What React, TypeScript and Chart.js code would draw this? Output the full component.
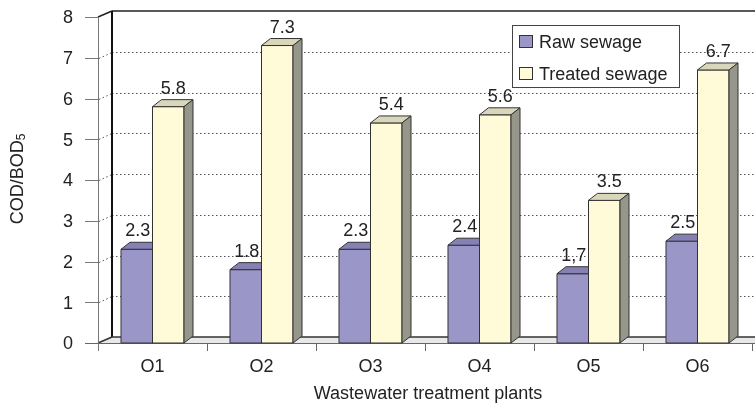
import React, { useEffect, useRef } from "react";
import { Chart, registerables } from "chart.js";

Chart.register(...registerables);

const categories = ["O1", "O2", "O3", "O4", "O5", "O6"];
const rawSewage = [2.3, 1.8, 2.3, 2.4, 1.7, 2.5];
const treatedSewage = [5.8, 7.3, 5.4, 5.6, 3.5, 6.7];
const rawLabels = ["2.3", "1.8", "2.3", "2.4", "1,7", "2.5"];
const treatedLabels = ["5.8", "7.3", "5.4", "5.6", "3.5", "6.7"];
const yTicks = [0, 1, 2, 3, 4, 5, 6, 7, 8];
const seriesNames = ["Raw sewage", "Treated sewage"];
const xTitle = "Wastewater treatment plants";
const yTitleMain = "COD/BOD";
const yTitleSub = "5";

const FONT = "'Liberation Sans', Arial, Helvetica, sans-serif";

const COLORS = [
  { front: "#9b96c8", top: "#8581b5", side: "#6e6a99" },
  { front: "#fffad8", top: "#dad6ba", side: "#96968a" },
];

const WALL_DX = 14;
const WALL_DY = -6;
const BAR_DX = 9;
const BAR_DY = -7;

const threeD = {
  id: "threeD",
  beforeDatasetsDraw(chart: any) {
    const ctx = chart.ctx as CanvasRenderingContext2D;
    const { left, right, top, bottom } = chart.chartArea;
    const W = chart.width;
    const ys = chart.scales.y;
    ctx.save();
    ctx.fillStyle = "#e8e8e8";
    ctx.beginPath();
    ctx.moveTo(left, bottom);
    ctx.lineTo(W, bottom);
    ctx.lineTo(W, bottom + WALL_DY);
    ctx.lineTo(left + WALL_DX, bottom + WALL_DY);
    ctx.closePath();
    ctx.fill();

    ctx.strokeStyle = "#555";
    ctx.lineWidth = 1;
    ctx.setLineDash([1.5, 2.5]);
    for (const v of yTicks) {
      if (v === yTicks[0] || v === yTicks[yTicks.length - 1]) continue;
      const y = Math.round(ys.getPixelForValue(v)) + 0.5;
      ctx.beginPath();
      ctx.moveTo(left + WALL_DX, y + WALL_DY);
      ctx.lineTo(W, y + WALL_DY);
      ctx.stroke();
      ctx.beginPath();
      ctx.moveTo(left + 1, y);
      ctx.lineTo(left + WALL_DX, y + WALL_DY);
      ctx.stroke();
    }
    ctx.setLineDash([]);

    ctx.strokeStyle = "#222";
    ctx.lineWidth = 1.5;
    ctx.beginPath();
    ctx.moveTo(left + WALL_DX, top + WALL_DY);
    ctx.lineTo(W, top + WALL_DY);
    ctx.stroke();
    ctx.beginPath();
    ctx.moveTo(left, top);
    ctx.lineTo(left + WALL_DX, top + WALL_DY);
    ctx.stroke();
    ctx.lineWidth = 2;
    ctx.strokeStyle = "#111";
    ctx.beginPath();
    ctx.moveTo(left + WALL_DX, top + WALL_DY);
    ctx.lineTo(left + WALL_DX, bottom + WALL_DY);
    ctx.stroke();
    ctx.lineWidth = 1.5;
    ctx.strokeStyle = "#333";
    ctx.beginPath();
    ctx.moveTo(left + WALL_DX, bottom + WALL_DY);
    ctx.lineTo(W, bottom + WALL_DY);
    ctx.stroke();
    ctx.beginPath();
    ctx.moveTo(left, bottom);
    ctx.lineTo(left + WALL_DX, bottom + WALL_DY);
    ctx.stroke();

    ctx.strokeStyle = "#777";
    ctx.lineWidth = 1;
    ctx.beginPath();
    ctx.moveTo(left + 0.5, top);
    ctx.lineTo(left + 0.5, bottom + 8);
    ctx.stroke();
    for (const v of yTicks) {
      const y = Math.round(ys.getPixelForValue(v)) + 0.5;
      ctx.beginPath();
      ctx.moveTo(left - 13, y);
      ctx.lineTo(left, y);
      ctx.stroke();
    }
    ctx.strokeStyle = "#666";
    ctx.beginPath();
    ctx.moveTo(left - 13, bottom + 0.5);
    ctx.lineTo(W, bottom + 0.5);
    ctx.stroke();
    const n = categories.length;
    for (let i = 1; i <= n; i++) {
      const x = Math.round(left + ((right - left) * i) / n) + 0.5;
      ctx.beginPath();
      ctx.moveTo(x, bottom);
      ctx.lineTo(x, bottom + 8);
      ctx.stroke();
    }
    ctx.restore();
  },
  afterDatasetsDraw(chart: any) {
    const ctx = chart.ctx as CanvasRenderingContext2D;
    const metas = [chart.getDatasetMeta(0), chart.getDatasetMeta(1)];
    const labels = [rawLabels, treatedLabels];
    ctx.save();
    ctx.lineWidth = 1;
    ctx.strokeStyle = "#333";
    ctx.lineJoin = "round";
    for (let i = 0; i < categories.length; i++) {
      for (let d = 0; d < 2; d++) {
        const el = metas[d].data[i];
        const { x, y, base, width } = el.getProps(["x", "y", "base", "width"], true);
        const l = x - width / 2;
        const r = x + width / 2;
        const c = COLORS[d];
        ctx.fillStyle = c.front;
        ctx.fillRect(l, y, r - l, base - y);
        ctx.strokeRect(l, y, r - l, base - y);
        ctx.fillStyle = c.top;
        ctx.beginPath();
        ctx.moveTo(l, y);
        ctx.lineTo(r, y);
        ctx.lineTo(r + BAR_DX, y + BAR_DY);
        ctx.lineTo(l + BAR_DX, y + BAR_DY);
        ctx.closePath();
        ctx.fill();
        ctx.stroke();
        ctx.fillStyle = c.side;
        ctx.beginPath();
        ctx.moveTo(r, y);
        ctx.lineTo(r + BAR_DX, y + BAR_DY);
        ctx.lineTo(r + BAR_DX, base + BAR_DY);
        ctx.lineTo(r, base);
        ctx.closePath();
        ctx.fill();
        ctx.stroke();
      }
    }
    ctx.fillStyle = "#222";
    ctx.font = `18px ${FONT}`;
    ctx.textAlign = "center";
    ctx.textBaseline = "alphabetic";
    for (let i = 0; i < categories.length; i++) {
      for (let d = 0; d < 2; d++) {
        const el = metas[d].data[i];
        const { x, y } = el.getProps(["x", "y"], true);
        const off = d === 0 ? 1 : 5;
        ctx.fillText(labels[d][i], x + off, y - 13);
      }
    }
    ctx.restore();
  },
  afterDraw(chart: any) {
    const ctx = chart.ctx as CanvasRenderingContext2D;
    const { left, right, bottom } = chart.chartArea;
    const ys = chart.scales.y;
    const xs = chart.scales.x;
    ctx.save();
    ctx.fillStyle = "#222";
    ctx.font = `18px ${FONT}`;
    ctx.textAlign = "right";
    ctx.textBaseline = "middle";
    for (const v of yTicks) {
      ctx.fillText(String(v), left - 25, ys.getPixelForValue(v) + 1.5);
    }
    ctx.textAlign = "center";
    ctx.textBaseline = "alphabetic";
    categories.forEach((c, i) => {
      ctx.fillText(c, xs.getPixelForValue(i), bottom + 29);
    });
    ctx.fillText(xTitle, (left + right) / 2 + 3, bottom + 56);
    ctx.save();
    ctx.translate(23, 179);
    ctx.rotate(-Math.PI / 2);
    ctx.textAlign = "left";
    ctx.font = `18px ${FONT}`;
    const mw = ctx.measureText(yTitleMain).width;
    ctx.font = `12px ${FONT}`;
    const sw = ctx.measureText(yTitleSub).width;
    const start = -(mw + sw) / 2;
    ctx.font = `18px ${FONT}`;
    ctx.fillText(yTitleMain, start, 0);
    ctx.font = `12px ${FONT}`;
    ctx.fillText(yTitleSub, start + mw, 2);
    ctx.restore();

    const lx = 512, ly = 25, lw = 167, lh = 62;
    ctx.fillStyle = "#fff";
    ctx.fillRect(lx, ly, lw, lh);
    ctx.strokeStyle = "#444";
    ctx.lineWidth = 1;
    ctx.strokeRect(lx + 0.5, ly + 0.5, lw, lh);
    ctx.font = `18px ${FONT}`;
    ctx.textAlign = "left";
    seriesNames.forEach((name, d) => {
      const sy = d === 0 ? 35 : 67;
      ctx.fillStyle = COLORS[d].front;
      ctx.fillRect(519.5, sy + 0.5, 13, 12);
      ctx.strokeStyle = "#333";
      ctx.strokeRect(519.5, sy + 0.5, 13, 12);
      ctx.fillStyle = "#222";
      ctx.fillText(name, 539, sy + 12.5);
    });
    ctx.restore();
  },
};

export default function App() {
  const ref = useRef<HTMLCanvasElement | null>(null);
  useEffect(() => {
    if (!ref.current) return;
    const chart = new Chart(ref.current, {
      type: "bar",
      data: {
        labels: categories,
        datasets: [
          {
            label: seriesNames[0],
            data: rawSewage,
            backgroundColor: COLORS[0].front,
            borderWidth: 0,
            barPercentage: 1,
            categoryPercentage: 0.578,
          },
          {
            label: seriesNames[1],
            data: treatedSewage,
            backgroundColor: COLORS[1].front,
            borderWidth: 0,
            barPercentage: 1,
            categoryPercentage: 0.578,
          },
        ],
      },
      options: {
        responsive: false,
        animation: false,
        devicePixelRatio: 1,
        layout: { padding: { left: 98, right: 3, top: 17, bottom: 69 } },
        plugins: { legend: { display: false }, tooltip: { enabled: false }, title: { display: false } },
        scales: {
          x: { display: false },
          y: { display: false, min: 0, max: 8 },
        },
        events: [],
      },
      plugins: [threeD],
    });
    return () => chart.destroy();
  }, []);
  return (
    <div style={{ position: "fixed", left: 0, top: 0, width: 755, height: 412, background: "#fff" }}>
      <canvas ref={ref} width={755} height={412} />
    </div>
  );
}
